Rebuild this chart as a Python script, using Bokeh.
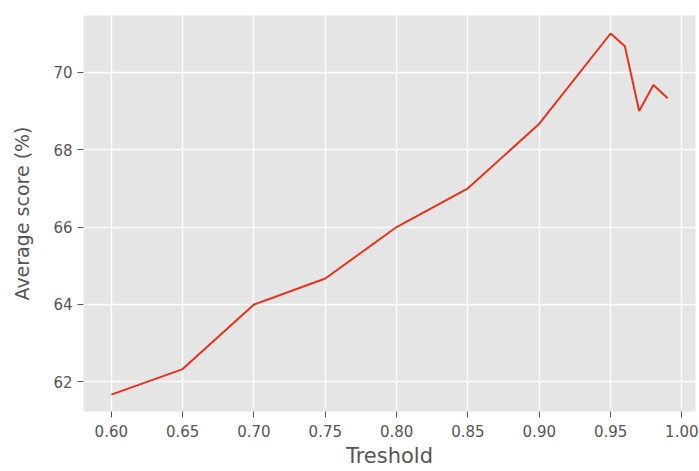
from bokeh.plotting import figure
from bokeh.embed import file_html
from bokeh.resources import INLINE
from bokeh.models import FixedTicker, Range1d, NumeralTickFormatter

threshold = [0.60, 0.65, 0.70, 0.75, 0.80, 0.85, 0.90, 0.95, 0.96, 0.97, 0.98, 0.99]
avg_score = [61.67, 62.33, 64.0, 64.67, 66.0, 67.0, 68.67, 71.0, 70.67, 69.0, 69.67, 69.33]
x_ticks = [0.60, 0.65, 0.70, 0.75, 0.80, 0.85, 0.90, 0.95, 1.00]
y_ticks = [62, 64, 66, 68, 70]

p = figure(width=698, height=470, output_backend="svg", toolbar_location=None,
           x_range=Range1d(0.5805, 1.0095), y_range=Range1d(61.235, 71.465),
           min_border_left=83, min_border_right=3, min_border_top=15, min_border_bottom=58)
p.background_fill_color = "#E5E5E5"
p.border_fill_color = "white"
p.outline_line_color = None

p.line(threshold, avg_score, line_color="#E8311C", line_width=2)

for ax in (p.xaxis, p.yaxis):
    ax.axis_line_color = None
    ax.major_tick_in = 0
    ax.major_tick_out = 6
    ax.major_tick_line_color = "#555555"
    ax.minor_tick_line_color = None
    ax.major_label_text_font = "DejaVu Sans"
    ax.major_label_text_font_size = "15px"
    ax.major_label_text_color = "#555555"
    ax.axis_label_text_font = "DejaVu Sans"
    ax.axis_label_text_font_style = "normal"
    ax.axis_label_text_color = "#555555"

p.xaxis.axis_label_text_font_size = "21px"
p.yaxis.axis_label_text_font_size = "19px"
p.xaxis.ticker = FixedTicker(ticks=x_ticks)
p.yaxis.ticker = FixedTicker(ticks=y_ticks)
p.xaxis.formatter = NumeralTickFormatter(format="0.00")
p.xaxis.axis_label = "Treshold"
p.yaxis.axis_label = "Average score (%)"
p.xaxis.major_label_standoff = 7
p.xaxis.axis_label_standoff = 4
p.yaxis.major_label_standoff = 5
p.yaxis.axis_label_standoff = 17

p.xgrid.ticker = FixedTicker(ticks=x_ticks)
p.ygrid.ticker = FixedTicker(ticks=y_ticks)
p.grid.grid_line_color = "white"
p.grid.grid_line_width = 1.5

open("out.html", "w").write(file_html(p, INLINE))
